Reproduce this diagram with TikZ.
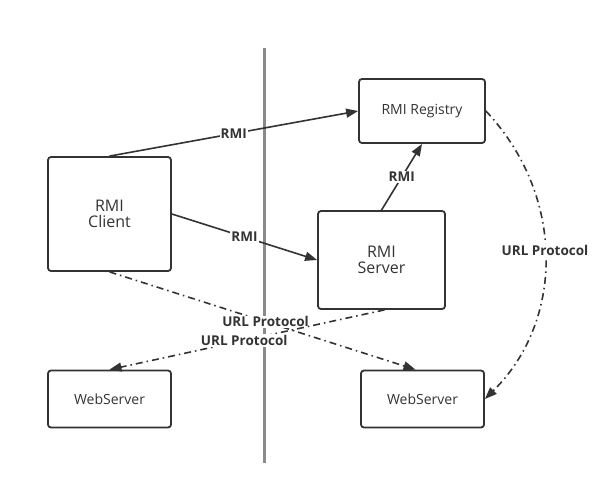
\documentclass[tikz,border=0pt]{standalone}
\usepackage{fontspec}
\setmainfont{Open Sans}
\usetikzlibrary{arrows.meta}
\definecolor{ink}{HTML}{333333}
\definecolor{wall}{HTML}{8A8A8A}
\tikzset{
  box/.style={draw=ink,line width=1.8pt,rounded corners=3pt,text=ink,align=center,inner sep=0pt},
  conn/.style={draw=ink,line width=1.6pt,-{Triangle[length=12pt,width=9pt]}},
  urlconn/.style={conn,dash pattern=on 7pt off 4pt on 1.5pt off 4pt},
  tag/.style={fill=white,text=ink,font=\fontsize{13.5}{16}\selectfont\bfseries,inner sep=1pt}
}
\begin{document}
\begin{tikzpicture}[x=1pt,y=1pt]
            \useasboundingbox (0,0) rectangle (599,-496);
            \draw[wall,line width=3pt] (264,-48)--(264,-463);
            \node[box,minimum width=123pt,minimum height=114pt,font=\fontsize{16}{19}\selectfont] (client) at (109.5,-214) {RMI\\[-3pt]Client};
            \node[box,minimum width=126pt,minimum height=64pt,font=\fontsize{14}{16}\selectfont] (registry) at (422,-111) {RMI Registry};
            \node[box,minimum width=127pt,minimum height=98pt,font=\fontsize{16}{19}\selectfont] (server) at (381.5,-260) {RMI\\[-3pt]Server};
            \node[box,minimum width=123pt,minimum height=57pt,font=\fontsize{14}{16}\selectfont] (webL) at (109.5,-399) {WebServer};
            \node[box,minimum width=123pt,minimum height=57pt,font=\fontsize{14}{16}\selectfont] (webR) at (422.5,-399) {WebServer};
            \draw[conn] (client.north)--node[tag]{RMI}(registry.west);
            \draw[conn] (client.east)--node[tag]{RMI}(server.west);
            \draw[conn] (server.north)--node[tag]{RMI}(registry.south);
            \draw[urlconn] (client.south)--node[tag,pos=0.51]{URL Protocol}([xshift=-7pt]webR.north);
            \draw[urlconn] ([xshift=3pt]server.south)--node[tag,pos=0.51]{URL Protocol}(webL.north);
            \draw[urlconn] (registry.east) .. controls (565,-195) and (565,-320) .. node[tag,pos=0.48]{URL Protocol}(webR.east);
        \end{tikzpicture}
\end{document}
